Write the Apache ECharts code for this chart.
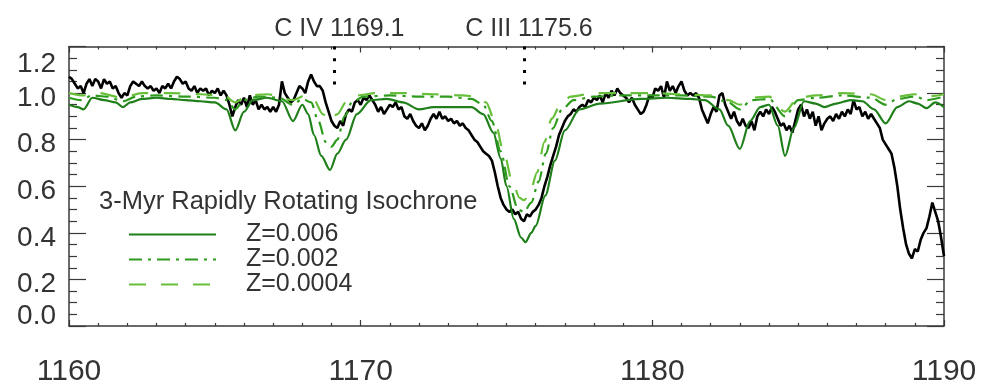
<!DOCTYPE html>
<html>
<head>
<meta charset="utf-8">
<script src="https://cdn.jsdelivr.net/npm/echarts@6/dist/echarts.min.js"></script>
<style>
  html, body { margin: 0; padding: 0; background: #fff; }
  #spectrum-chart { width: 986px; height: 389px; }
</style>
</head>
<body>
<div id="spectrum-chart"></div>
<script>
// observed spectrum, [wavelength (A), normalized flux]
const observed = [
  [1160.0,1.07],[1160.1,1.06],[1160.2,1.04],[1160.3,1.02],[1160.4,1.03],[1160.5,1.00],[1160.6,1.04],[1160.7,1.06],
  [1160.8,1.03],[1160.9,1.06],[1161.0,1.05],[1161.1,1.02],[1161.2,1.06],[1161.3,1.04],[1161.4,1.05],[1161.5,1.02],
  [1161.6,1.03],[1161.7,1.00],[1161.8,0.98],[1161.9,1.00],[1162.0,0.99],[1162.1,1.03],[1162.2,1.05],[1162.3,1.04],
  [1162.4,1.03],[1162.5,1.05],[1162.6,1.03],[1162.7,1.02],[1162.8,1.03],[1162.9,1.01],[1163.0,1.02],[1163.1,1.00],
  [1163.2,1.03],[1163.3,1.02],[1163.4,1.04],[1163.5,1.02],[1163.6,1.05],[1163.7,1.07],[1163.8,1.06],[1163.9,1.04],
  [1164.0,1.05],[1164.1,1.02],[1164.2,1.01],[1164.3,1.03],[1164.4,1.00],[1164.5,1.02],[1164.6,1.01],[1164.7,1.02],
  [1164.8,0.99],[1164.9,1.01],[1165.0,1.00],[1165.1,1.02],[1165.2,0.99],[1165.3,1.01],[1165.4,0.99],[1165.5,0.95],
  [1165.6,0.90],[1165.7,0.94],[1165.8,0.97],[1165.9,0.95],[1166.0,0.98],[1166.1,0.94],[1166.2,0.99],[1166.3,0.95],
  [1166.4,0.97],[1166.5,0.93],[1166.6,0.95],[1166.7,0.93],[1166.8,0.94],[1166.9,0.92],[1167.0,0.94],[1167.1,0.92],
  [1167.2,0.95],[1167.3,1.05],[1167.4,1.00],[1167.5,0.98],[1167.6,0.96],[1167.7,0.97],[1167.8,1.00],[1167.9,1.03],
  [1168.0,1.02],[1168.1,1.00],[1168.2,1.05],[1168.3,1.08],[1168.4,1.05],[1168.5,1.03],[1168.6,1.03],[1168.7,1.01],
  [1168.8,0.96],[1168.9,0.92],[1169.0,0.88],[1169.1,0.86],[1169.2,0.85],[1169.3,0.88],[1169.4,0.86],[1169.5,0.91],
  [1169.6,0.93],[1169.7,0.92],[1169.8,0.96],[1169.9,0.97],[1170.0,0.95],[1170.1,0.98],[1170.2,0.97],[1170.3,0.99],
  [1170.4,0.97],[1170.5,0.95],[1170.6,0.92],[1170.7,0.94],[1170.8,0.91],[1170.9,0.93],[1171.0,0.95],[1171.1,0.94],
  [1171.2,0.96],[1171.3,0.93],[1171.4,0.94],[1171.5,0.90],[1171.6,0.89],[1171.7,0.91],[1171.8,0.88],[1171.9,0.86],
  [1172.0,0.85],[1172.1,0.87],[1172.2,0.84],[1172.3,0.86],[1172.4,0.89],[1172.5,0.91],[1172.6,0.89],[1172.7,0.92],
  [1172.8,0.89],[1172.9,0.90],[1173.0,0.88],[1173.1,0.89],[1173.2,0.87],[1173.3,0.88],[1173.4,0.86],[1173.5,0.87],
  [1173.6,0.85],[1173.7,0.84],[1173.8,0.82],[1173.9,0.80],[1174.0,0.79],[1174.1,0.77],[1174.2,0.75],[1174.3,0.74],
  [1174.4,0.73],[1174.5,0.71],[1174.6,0.66],[1174.7,0.60],[1174.8,0.55],[1174.9,0.52],[1175.0,0.50],[1175.1,0.49],
  [1175.2,0.50],[1175.3,0.48],[1175.4,0.49],[1175.5,0.46],[1175.6,0.45],[1175.7,0.48],[1175.8,0.47],[1175.9,0.49],
  [1176.0,0.50],[1176.1,0.52],[1176.2,0.55],[1176.3,0.60],[1176.4,0.64],[1176.5,0.69],[1176.6,0.73],[1176.7,0.77],
  [1176.8,0.82],[1176.9,0.85],[1177.0,0.88],[1177.1,0.90],[1177.2,0.91],[1177.3,0.93],[1177.4,0.92],[1177.5,0.94],
  [1177.6,0.95],[1177.7,0.94],[1177.8,0.97],[1177.9,0.96],[1178.0,0.98],[1178.1,0.97],[1178.2,0.99],[1178.3,0.96],
  [1178.4,1.00],[1178.5,0.98],[1178.6,1.01],[1178.7,0.99],[1178.8,1.02],[1178.9,1.00],[1179.0,0.99],[1179.1,0.98],
  [1179.2,0.96],[1179.3,0.98],[1179.4,0.95],[1179.5,0.93],[1179.6,0.91],[1179.7,0.92],[1179.8,0.95],[1179.9,0.99],
  [1180.0,0.98],[1180.1,1.02],[1180.2,1.01],[1180.3,1.03],[1180.4,0.98],[1180.5,1.05],[1180.6,1.01],[1180.7,1.03],
  [1180.8,1.00],[1180.9,1.03],[1181.0,1.05],[1181.1,1.01],[1181.2,0.99],[1181.3,1.00],[1181.4,0.99],[1181.5,1.00],
  [1181.6,0.98],[1181.7,0.93],[1181.8,0.90],[1181.9,0.87],[1182.0,0.91],[1182.1,0.94],[1182.2,0.92],[1182.3,0.99],
  [1182.4,1.00],[1182.5,0.95],[1182.6,0.92],[1182.7,0.89],[1182.8,0.92],[1182.9,0.88],[1183.0,0.86],[1183.1,0.89],
  [1183.2,0.86],[1183.3,0.85],[1183.4,0.88],[1183.5,0.84],[1183.6,0.90],[1183.7,0.92],[1183.8,0.90],[1183.9,0.93],
  [1184.0,0.91],[1184.1,0.94],[1184.2,0.92],[1184.3,0.89],[1184.4,0.86],[1184.5,0.87],[1184.6,0.84],[1184.7,0.86],
  [1184.8,0.83],[1184.9,0.88],[1185.0,0.93],[1185.1,0.95],[1185.2,0.90],[1185.3,0.93],[1185.4,0.89],[1185.5,0.92],
  [1185.6,0.86],[1185.7,0.90],[1185.8,0.84],[1185.9,0.87],[1186.0,0.89],[1186.1,0.90],[1186.2,0.88],[1186.3,0.91],
  [1186.4,0.89],[1186.5,0.92],[1186.6,0.90],[1186.7,0.93],[1186.8,0.91],[1186.9,0.97],[1187.0,0.93],[1187.1,0.94],
  [1187.2,0.90],[1187.3,0.92],[1187.4,0.89],[1187.5,0.91],[1187.6,0.89],[1187.7,0.87],[1187.8,0.85],[1187.9,0.80],
  [1188.0,0.78],[1188.1,0.76],[1188.2,0.74],[1188.3,0.68],[1188.4,0.60],[1188.5,0.50],[1188.6,0.42],[1188.7,0.35],
  [1188.8,0.31],[1188.9,0.29],[1189.0,0.33],[1189.1,0.32],[1189.2,0.37],[1189.3,0.40],[1189.4,0.42],[1189.5,0.47],
  [1189.6,0.53],[1189.7,0.49],[1189.8,0.45],[1189.9,0.38],[1190.0,0.30]
];

// isochrone models
const modelZ0060 = [
  [1160.0,0.95],[1160.3,0.94],[1160.5,0.93],[1160.8,0.98],[1161.2,0.97],[1161.6,0.96],[1161.85,0.94],[1162.1,0.96],
  [1162.5,0.975],[1163.0,0.98],[1163.5,0.975],[1164.0,0.97],[1164.5,0.965],[1165.0,0.96],[1165.4,0.93],[1165.7,0.84],
  [1166.0,0.92],[1166.3,0.97],[1166.8,0.98],[1167.3,0.965],[1167.68,0.88],[1168.0,0.95],[1168.2,0.91],[1168.4,0.82],
  [1168.65,0.73],[1168.95,0.67],[1169.2,0.74],[1169.5,0.80],[1169.87,0.91],[1170.35,0.97],[1170.9,0.975],[1171.45,0.96],
  [1172.0,0.93],[1172.5,0.94],[1173.2,0.94],[1173.8,0.94],[1174.2,0.91],[1174.55,0.83],[1174.8,0.72],[1175.0,0.60],
  [1175.25,0.46],[1175.5,0.38],[1175.65,0.36],[1175.85,0.40],[1176.0,0.43],[1176.33,0.56],[1176.66,0.71],[1177.0,0.84],
  [1177.5,0.93],[1178.2,0.955],[1179.6,0.975],[1180.5,0.98],[1181.3,0.975],[1181.8,0.97],[1182.3,0.93],[1182.6,0.86],
  [1183.0,0.76],[1183.35,0.88],[1183.7,0.94],[1184.0,0.95],[1184.3,0.86],[1184.55,0.73],[1184.85,0.85],[1185.2,0.965],
  [1185.6,0.955],[1185.9,0.94],[1186.3,0.955],[1186.8,0.97],[1187.2,0.965],[1187.6,0.93],[1188.0,0.87],[1188.4,0.94],
  [1188.8,0.965],[1189.1,0.955],[1189.4,0.935],[1189.7,0.96],[1190.0,0.94]
];
const modelZ0020 = [
  [1160.0,0.98],[1160.4,0.97],[1160.8,0.99],[1161.3,0.985],[1161.85,0.965],[1162.3,0.985],[1163.0,0.99],[1164.0,0.985],
  [1165.0,0.98],[1165.4,0.97],[1165.7,0.93],[1166.0,0.97],[1166.5,0.985],[1167.2,0.98],[1167.68,0.95],[1168.0,0.975],
  [1168.3,0.96],[1168.55,0.88],[1168.8,0.79],[1169.0,0.77],[1169.2,0.80],[1169.45,0.90],[1169.7,0.96],[1170.1,0.985],
  [1171.0,0.99],[1172.0,0.985],[1173.0,0.985],[1173.8,0.975],[1174.2,0.95],[1174.5,0.88],[1174.8,0.75],[1175.1,0.60],
  [1175.4,0.50],[1175.6,0.49],[1175.85,0.53],[1176.1,0.62],[1176.35,0.74],[1176.6,0.85],[1176.9,0.93],[1177.3,0.97],
  [1178.0,0.985],[1179.0,0.99],[1180.0,0.99],[1181.0,0.99],[1182.0,0.985],[1182.6,0.96],[1183.0,0.93],[1183.4,0.97],
  [1184.0,0.975],[1184.55,0.90],[1185.0,0.97],[1185.6,0.98],[1186.5,0.99],[1187.5,0.98],[1188.0,0.95],[1188.4,0.975],
  [1189.0,0.985],[1189.4,0.97],[1190.0,0.985]
];
const modelZ0004 = [
  [1160.0,1.00],[1160.5,0.99],[1161.0,1.00],[1161.85,0.98],[1162.5,1.00],[1163.5,1.00],[1164.5,0.995],[1165.3,0.99],
  [1165.7,0.96],[1166.1,0.99],[1166.8,0.995],[1167.68,0.97],[1168.1,0.99],[1168.4,0.97],[1168.7,0.91],[1168.95,0.88],
  [1169.2,0.91],[1169.5,0.96],[1169.9,0.99],[1170.5,1.00],[1171.5,1.00],[1172.5,0.995],[1173.5,0.99],[1174.0,0.985],
  [1174.3,0.96],[1174.6,0.88],[1174.9,0.75],[1175.2,0.62],[1175.45,0.55],[1175.6,0.54],[1175.8,0.57],[1176.05,0.66],
  [1176.3,0.79],[1176.55,0.89],[1176.85,0.95],[1177.2,0.985],[1178.0,1.00],[1179.0,1.00],[1180.0,1.00],[1181.0,0.995],
  [1182.0,0.99],[1182.6,0.97],[1183.0,0.95],[1183.4,0.98],[1184.0,0.985],[1184.55,0.92],[1185.0,0.98],[1185.6,0.99],
  [1186.5,1.00],[1187.5,0.995],[1188.0,0.97],[1188.4,0.985],[1189.0,0.995],[1189.4,0.985],[1190.0,0.995]
];

const modelNames = ['Z=0.006', 'Z=0.002', 'Z=0.0004'];
const lineIds = [
  { name: 'C IV 1169.1', wave: 1169.1 },
  { name: 'C III 1175.6', wave: 1175.6 },
];
const markTop = 1.2;
const markBottom = 1.03;

const FONT = 'Liberation Sans, Arial, sans-serif';
const AXIS_COLOR = '#3a3a3a';

function yLabel(v) {
  let s = v.toFixed(1);
  if (Math.abs(v - 1.2) < 1e-6) return '{t|' + s + '}';
  if (Math.abs(v) < 1e-6) return '{b|' + s + '}';
  return '{m|' + s + '}';
}

function makeTicks(majorLen, minorLen, minorSplit) {
  return {
    axisTick: { show: true, inside: true, length: majorLen, lineStyle: { color: AXIS_COLOR, width: 1.2 } },
    minorTick: { show: true, splitNumber: minorSplit, length: minorLen, lineStyle: { color: AXIS_COLOR, width: 1.2 } },
  };
}

function generateSpectrumChart() {
  let chartDom = document.getElementById('spectrum-chart');
  let myChart = echarts.init(chartDom, null, { renderer: 'canvas' });

  let axisLine = { show: true, onZero: false, lineStyle: { color: AXIS_COLOR, width: 1.5 } };
  let xTicks = makeTicks(6, 3, 10);
  let yTicks = makeTicks(17, 8, 4);

  let option = {
    animation: false,
    backgroundColor: '#fff',
    textStyle: { fontFamily: FONT },
    grid: { left: 69, right: 42, top: 46.5, bottom: 63 },
    title: {
      text: '3-Myr Rapidly Rotating Isochrone',
      left: 99,
      top: 189,
      padding: 0,
      textStyle: { fontFamily: FONT, fontSize: 25.5, fontWeight: 'normal', color: '#333' },
    },
    legend: {
      data: modelNames,
      orient: 'vertical',
      left: 128,
      top: 222,
      padding: 0,
      itemGap: 0,
      itemWidth: 87,
      itemHeight: 12,
      selectedMode: false,
      itemStyle: { opacity: 0, borderWidth: 0 },
      textStyle: {
        fontFamily: FONT,
        fontSize: 25,
        color: '#333',
        lineHeight: 23,
        padding: [0, 0, 0, 25],
      },
    },
    xAxis: [
      {
        type: 'value', position: 'bottom', min: 1160, max: 1190, interval: 10,
        axisLine: axisLine,
        axisTick: xTicks.axisTick,
        minorTick: xTicks.minorTick,
        splitLine: { show: false },
        axisLabel: {
          fontFamily: FONT, fontSize: 30, color: '#333', margin: 31,
          formatter: (v) => String(v),
        },
      },
      {
        type: 'value', position: 'top', min: 1160, max: 1190, interval: 10,
        axisLine: axisLine,
        axisTick: xTicks.axisTick,
        minorTick: xTicks.minorTick,
        splitLine: { show: false },
        axisLabel: { show: false },
      },
    ],
    yAxis: [
      {
        type: 'value', position: 'left', min: 0, max: 1.2, interval: 0.2,
        axisLine: axisLine,
        axisTick: yTicks.axisTick,
        minorTick: yTicks.minorTick,
        splitLine: { show: false },
        axisLabel: {
          margin: 13,
          formatter: yLabel,
          rich: {
            t: { fontFamily: FONT, fontSize: 28, color: '#333', padding: [36, 0, 0, 0] },
            m: { fontFamily: FONT, fontSize: 28, color: '#333', padding: [10, 0, 0, 0] },
            b: { fontFamily: FONT, fontSize: 28, color: '#333', padding: [0, 0, 20, 0] },
          },
        },
      },
      {
        type: 'value', position: 'right', min: 0, max: 1.2, interval: 0.2,
        axisLine: axisLine,
        axisTick: yTicks.axisTick,
        minorTick: yTicks.minorTick,
        splitLine: { show: false },
        axisLabel: { show: false },
      },
    ],
    series: [
      {
        name: 'observed',
        type: 'line',
        data: observed,
        symbol: 'none',
        lineStyle: { color: '#000', width: 2.6 },
        z: 2,
        markLine: {
          silent: true,
          symbol: 'none',
          lineStyle: { color: '#000', width: 3, type: [3, 8.7] },
          label: {
            show: true,
            position: 'start',
            distance: 5,
            offset: [5, 0],
            fontFamily: FONT,
            fontSize: 25,
            color: '#333',
            formatter: (p) => p.data.name,
          },
          data: lineIds.map((l) => [
            { name: l.name, coord: [l.wave, markTop] },
            { coord: [l.wave, markBottom] },
          ]),
        },
      },
      {
        name: modelNames[0],
        type: 'line',
        data: modelZ0060,
        symbol: 'none',
        smooth: 0.3,
        smoothMonotone: 'x',
        itemStyle: { color: '#1f7f1a' },
        lineStyle: { color: '#1f7f1a', width: 2.2 },
        z: 3,
      },
      {
        name: modelNames[1],
        type: 'line',
        data: modelZ0020,
        symbol: 'none',
        smooth: 0.3,
        smoothMonotone: 'x',
        itemStyle: { color: '#2f9b1e' },
        lineStyle: { color: '#2f9b1e', width: 2.2, type: [13, 6, 3, 6] },
        z: 3,
      },
      {
        name: modelNames[2],
        type: 'line',
        data: modelZ0004,
        symbol: 'none',
        smooth: 0.3,
        smoothMonotone: 'x',
        itemStyle: { color: '#68c03a' },
        lineStyle: { color: '#68c03a', width: 2.2, type: [17, 15] },
        z: 3,
      },
    ],
  };

  myChart.setOption(option);
}

generateSpectrumChart();
</script>
</body>
</html>
